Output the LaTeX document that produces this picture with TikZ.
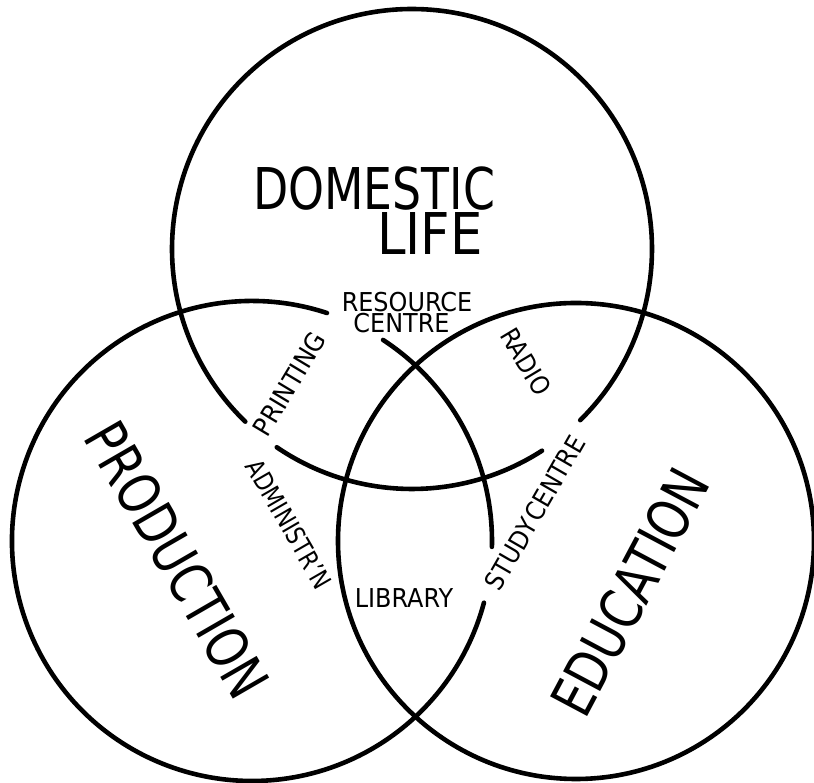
\documentclass[tikz,border=0pt]{standalone}
\usepackage{fontspec}
\setmainfont{DejaVu Sans}
\usepackage{graphicx}
\tikzstyle{ring} = [line width=4.6pt, line cap=round]
\tikzstyle{bigword} = [inner sep=0pt, font=\fontsize{57.6}{60}\selectfont]
\tikzstyle{smallword} = [inner sep=0pt, font=\fontsize{26}{28}\selectfont]
\newcommand{\squeeze}[2][0.9]{\scalebox{#1}[1]{#2}}

\begin{document}
\begin{tikzpicture}[x=1pt,y=1pt]
	\useasboundingbox (0,0) rectangle (814,783);
	\coordinate (domestic) at (412,534);
	\coordinate (production) at (252,242);
	\coordinate (education) at (576,242);
	% the three circles, broken where labels sit
	\draw[ring] (domestic) ++(-45.5:240pt) arc[start angle=-45.5, end angle=226, radius=240pt];
	\draw[ring] (domestic) ++(235.7:240pt) arc[start angle=235.7, end angle=302.8, radius=240pt];
	\draw[ring] (production) ++(-1.4:240pt) arc[start angle=-1.4, end angle=56.9, radius=240pt];
	\draw[ring] (production) ++(71.8:240pt) arc[start angle=71.8, end angle=345.1, radius=240pt];
	\draw[ring] (education) circle[radius=238pt];
	% big labels
	\node[bigword, anchor=base] (dom) at (374,573) {\squeeze[0.794]{DOMESTIC}};
	\node[bigword, anchor=base] (life) at (430,528) {\squeeze[0.89]{LIFE}};
	\node[bigword, rotate=-60] (prod) at (177.5,223.5) {\squeeze[0.79]{PRODUCTION}};
	\node[bigword, rotate=62] (edu) at (630,191) {\squeeze[0.795]{EDUCATION}};
	% small labels
	\node[smallword, anchor=base] (res) at (407,471) {\squeeze[0.92]{RESOURCE}};
	\node[smallword, anchor=base] (cen) at (401.5,450) {\squeeze[0.92]{CENTRE}};
	\node[smallword, anchor=base] (lib) at (404,175) {\squeeze[0.92]{LIBRARY}};
	\node[smallword, rotate=59] (print) at (289.5,399) {\squeeze[0.93]{PRINTING}};
	\node[smallword, rotate=-60] (admin) at (289,259) {\squeeze[0.83]{ADMINISTR'N}};
	\node[smallword, rotate=-59] (radio) at (526,421.5) {\squeeze[0.88]{RADIO}};
	\node[smallword, rotate=60] (study) at (535,270.5) {\squeeze[0.9]{STUDY\kern2pt CENTRE}};
\end{tikzpicture}
\end{document}
